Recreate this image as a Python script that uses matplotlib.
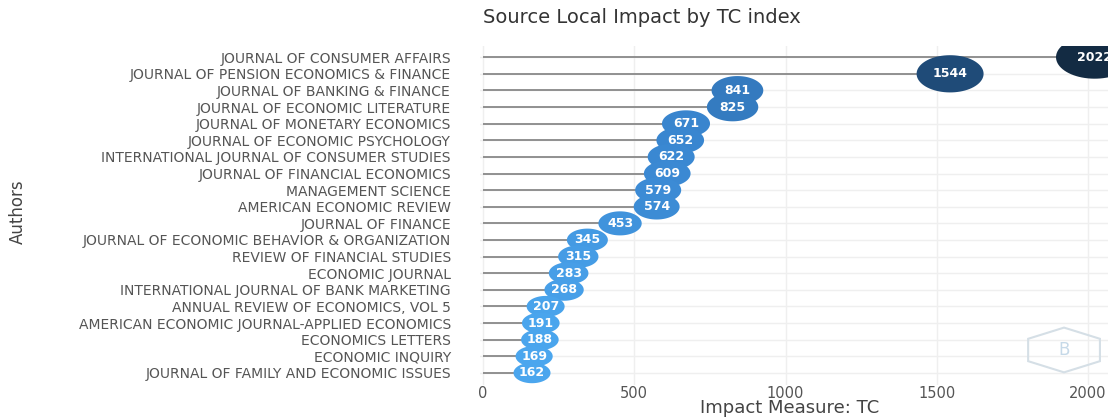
import matplotlib
matplotlib.use("Agg")
import matplotlib.pyplot as plt
import numpy as np
from matplotlib.path import Path
from matplotlib.colors import LinearSegmentedColormap
from matplotlib.patches import RegularPolygon

sources = [
    "JOURNAL OF CONSUMER AFFAIRS",
    "JOURNAL OF PENSION ECONOMICS & FINANCE",
    "JOURNAL OF BANKING & FINANCE",
    "JOURNAL OF ECONOMIC LITERATURE",
    "JOURNAL OF MONETARY ECONOMICS",
    "JOURNAL OF ECONOMIC PSYCHOLOGY",
    "INTERNATIONAL JOURNAL OF CONSUMER STUDIES",
    "JOURNAL OF FINANCIAL ECONOMICS",
    "MANAGEMENT SCIENCE",
    "AMERICAN ECONOMIC REVIEW",
    "JOURNAL OF FINANCE",
    "JOURNAL OF ECONOMIC BEHAVIOR & ORGANIZATION",
    "REVIEW OF FINANCIAL STUDIES",
    "ECONOMIC JOURNAL",
    "INTERNATIONAL JOURNAL OF BANK MARKETING",
    "ANNUAL REVIEW OF ECONOMICS, VOL 5",
    "AMERICAN ECONOMIC JOURNAL-APPLIED ECONOMICS",
    "ECONOMICS LETTERS",
    "ECONOMIC INQUIRY",
    "JOURNAL OF FAMILY AND ECONOMIC ISSUES",
]
tc_values = [2022, 1544, 841, 825, 671, 652, 622, 609, 579, 574,
             453, 345, 315, 283, 268, 207, 191, 188, 169, 162]
x_ticks = [0, 500, 1000, 1500, 2000]

title = "Source Local Impact by TC index"
xlabel = "Impact Measure: TC"
ylabel = "Authors"

fig = plt.figure(figsize=(11.08, 4.18), dpi=100)
ax = fig.add_axes([0.4332, 0.080, 0.5668, 0.811])

n = len(sources)
ypos = np.arange(n)[::-1]  # first item at top
vals = np.array(tc_values, dtype=float)

# elliptical marker (reference is horizontally stretched)
t = np.linspace(0, 2 * np.pi, 80)
aspect = 1.8
verts = np.column_stack([aspect * np.cos(t), np.sin(t)])
ell = Path(verts, closed=True)

cmap = LinearSegmentedColormap.from_list(
    "tc", ["#4ba6ee", "#3a88d2", "#2c6aa8", "#1f4a77", "#132b43"])
norm = plt.Normalize(vals.min(), vals.max())
colors = cmap(norm(vals))

# widths in px grow with value
w_px = 33.5 + 0.0217 * vals
sizes = (w_px / (100 / 72)) ** 2

ax.hlines(ypos, 0, vals, color="#888888", lw=1.3, zorder=2)
ax.scatter(vals, ypos, s=sizes, marker=ell, c=colors, edgecolors="none",
           zorder=3, clip_on=True)
for v, y in zip(vals, ypos):
    ax.text(v, y, f"{int(v)}", ha="center", va="center", color="white",
            fontsize=9, fontweight="bold", zorder=4, clip_on=True)

ax.set_xlim(-10, 2066)
ax.set_ylim(-0.7, n - 1 + 0.7)
ax.set_yticks(ypos)
ax.set_yticklabels(sources)
ax.set_xticks(x_ticks)
ax.set_xticklabels([str(v) for v in x_ticks])
ax.tick_params(axis="both", length=0, colors="#555555")
ax.tick_params(axis="y", pad=21, labelsize=10)
ax.tick_params(axis="x", pad=1, labelsize=10.5)
for s in ax.spines.values():
    s.set_visible(False)
ax.grid(True, color="#efefef", lw=1)
ax.set_axisbelow(True)

fig.text(0.713, 0.024, xlabel, ha="center", va="center", fontsize=13,
         color="#444444")
fig.text(0.016, 0.493, ylabel, rotation=90, ha="center", va="center",
         fontsize=12, color="#444444",
         family=["Liberation Sans Narrow", "DejaVu Sans"])
fig.text(0.579, 0.957, title, ha="center", va="center", fontsize=14,
         color="#333333")

# faint hexagon logo
hexa = RegularPolygon((0.93, 0.102), numVertices=6, radius=0.066,
                      orientation=0, transform=ax.transAxes,
                      fill=False, ec="#d5dfe6", lw=1.5, zorder=1)
ax.add_patch(hexa)
ax.text(0.93, 0.102, "B", transform=ax.transAxes, ha="center", va="center",
        fontsize=12, color="#c6d9e8", zorder=1)

fig.savefig("out.png", dpi=100, facecolor="white")
